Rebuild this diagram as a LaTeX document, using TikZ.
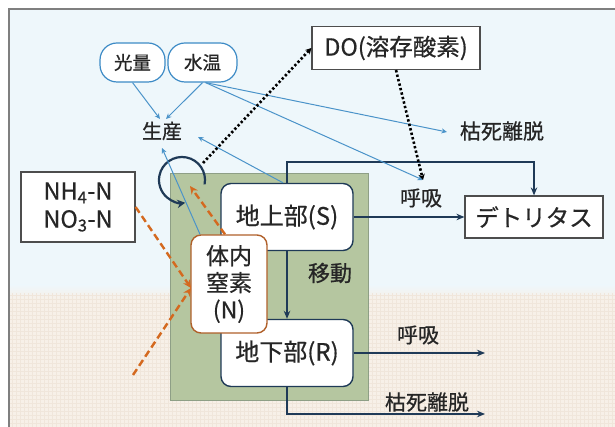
\documentclass[tikz,border=0pt]{standalone}
\usepackage{fontspec}
\setmainfont{Noto Sans CJK JP}[FakeBold=0.6]
\usetikzlibrary{arrows.meta}
\definecolor{navy}{HTML}{1F3A57}
\definecolor{skyln}{HTML}{4A93C9}
\definecolor{boxbl}{HTML}{3D8BC6}
\definecolor{orng}{HTML}{D4691F}
\definecolor{nbord}{HTML}{B0602A}
\definecolor{grn}{HTML}{B5C6A0}
\definecolor{grnb}{HTML}{8E9F86}
\definecolor{bgblue}{HTML}{EEF7FB}
\definecolor{bgbeige}{HTML}{F7F0E8}
\definecolor{gridc}{HTML}{F0E6DB}
\definecolor{txt}{HTML}{262626}
\definecolor{frm}{HTML}{7F7F7F}
\definecolor{bxb}{HTML}{4D4D4D}
\begin{document}
\begin{tikzpicture}[x=1pt,y=1pt,text=txt,
  part/.style={draw=navy, line width=1.4pt, fill=white, rounded corners=10pt,
    minimum width=132pt, minimum height=67pt, inner sep=0pt,
    font=\fontsize{24}{28}\selectfont},
  nbox/.style={draw=nbord, line width=1.4pt, fill=white, rounded corners=10pt,
    minimum width=76pt, minimum height=98pt, inner sep=0pt, align=center,
    font=\fontsize{23}{27}\selectfont},
  sqbox/.style={draw=bxb, line width=1.2pt, fill=white, inner sep=0pt,
    font=\fontsize{23.5}{28}\selectfont, align=center},
  envbox/.style={draw=boxbl, line width=1.2pt, fill=white, rounded corners=17pt,
    inner sep=0pt, minimum height=39pt, font=\fontsize{18.5}{22}\selectfont},
  lbl/.style={inner sep=0pt, font=\fontsize{21}{24}\selectfont},
  navyarrow/.style={draw=navy, line width=1.6pt, -{Stealth[length=8pt,width=6.5pt]}},
  bluearrow/.style={draw=skyln, line width=1pt, -{Stealth[length=5.5pt,width=5pt]}},
  dotarrow/.style={draw=black, line width=2.6pt,
    dash pattern=on 2.4pt off 2.2pt, -{Stealth[length=6pt,width=6.5pt]}},
  orarrow/.style={draw=orng, line width=2.4pt, dash pattern=on 7pt off 4pt,
    -{Stealth[length=8pt,width=7.5pt]}}
]
\useasboundingbox (0,0) rectangle (615,427);
% background
\fill[white] (0,0) rectangle (615,427);
\fill[bgblue] (9,0) rectangle (615,418);
\shade[top color=bgblue, bottom color=bgbeige] (9,128) rectangle (615,142);
\fill[bgbeige] (9,0) rectangle (615,128);
\begin{scope}
  \clip (9,0) rectangle (615,134);
  \draw[gridc, line width=0.5pt, step=4pt] (9,0) grid (615,134);
\end{scope}
\draw[frm, line width=2pt] (9,0) -- (9,418) -- (615,418);
% green plant box
\fill[grn] (170,27) rectangle (368,254);
\draw[grnb, line width=0.8pt] (170,27) rectangle (368,254);

% nodes
\node[part] (S) at (287,210) {地上部(S)};
\node[part] (R) at (287,74) {地下部(R)};
\node[nbox] (N) at (229,143) {体内\\窒素\\(N)};
\node[sqbox, minimum width=114pt, minimum height=70pt] (NH) at (78,220)
  {NH\textsubscript{4}-N\\NO\textsubscript{3}-N};
\node[sqbox, minimum width=168pt, minimum height=43pt] (DO) at (396,379) {DO(溶存酸素)};
\node[sqbox, minimum width=138pt, minimum height=42pt,
  font=\fontsize{23.5}{28}\selectfont] (D) at (534,210) {デトリタス};
\node[envbox, minimum width=65pt] (kou) at (132.5,364.5) {光量};
\node[envbox, minimum width=69pt] (sui) at (202.5,364.5) {水温};
\node[lbl, font=\fontsize{20}{23}\selectfont] (seisan) at (162,296) {生産};
\node[lbl] (kosi1) at (502,296) {枯死離脱};
\node[lbl] (kokyu1) at (421,229) {呼吸};
\node[lbl, font=\fontsize{22}{24}\selectfont] (idou) at (330,154) {移動};
\node[lbl] (kokyu2) at (418,92) {呼吸};
\node[lbl] (kosi2) at (427,25) {枯死離脱};

% coordinates
\coordinate (sup) at (287,265);
\coordinate (rresp) at (485,74);
\coordinate (rdown) at (287,13);
\coordinate (rdet) at (485,13);
\coordinate (resp) at (423,247);
\coordinate (circtop) at (203,264);
\coordinate (sprod) at (198,290);
\coordinate (nprod) at (162,279);
\coordinate (nin) at (191,139);
\coordinate (nbot) at (133,52);
\coordinate (ntip) at (190,241);
\coordinate (kprod) at (160,308);
\coordinate (wprod) at (166,308);
\coordinate (kosiin) at (447,295);

% navy connectors
\draw[navyarrow] (S.north) -- (sup) -| (D.north);
\draw[navyarrow] (S.east) -- (D.west);
\draw[navyarrow] (S.south) -- (R.north);
\draw[navyarrow] (R.east) -- (rresp);
\draw[navyarrow] (R.south) -- (rdown) -- (rdet);
% circular arrow
\draw[navy, line width=2.2pt, -{Stealth[length=8pt,width=8.5pt]}]
  (182,247) ++(-11:23pt) arc[start angle=-11, end angle=278, radius=23pt];

% blue arrows
\draw[bluearrow] (kou.south) -- (kprod);
\draw[bluearrow] (sui.south) -- (wprod);
\draw[bluearrow] ([xshift=3pt]sui.south) -- (kosiin);
\draw[bluearrow] ([xshift=3pt]sui.south) -- (resp);
\draw[bluearrow] ([xshift=-4pt]S.north) -- (sprod);
\draw[bluearrow] ([xshift=-29pt]N.north) -- (nprod);

% dotted
\draw[dotarrow] (circtop) -- (DO.west);
\draw[dotarrow] (DO.south) -- (resp);

% orange dashed
\draw[orarrow] (NH.east) -- (nin);
\draw[orarrow] (nbot) -- (nin);
\draw[orarrow] ([xshift=-4pt]N.north) -- (ntip);
\end{tikzpicture}
\end{document}
